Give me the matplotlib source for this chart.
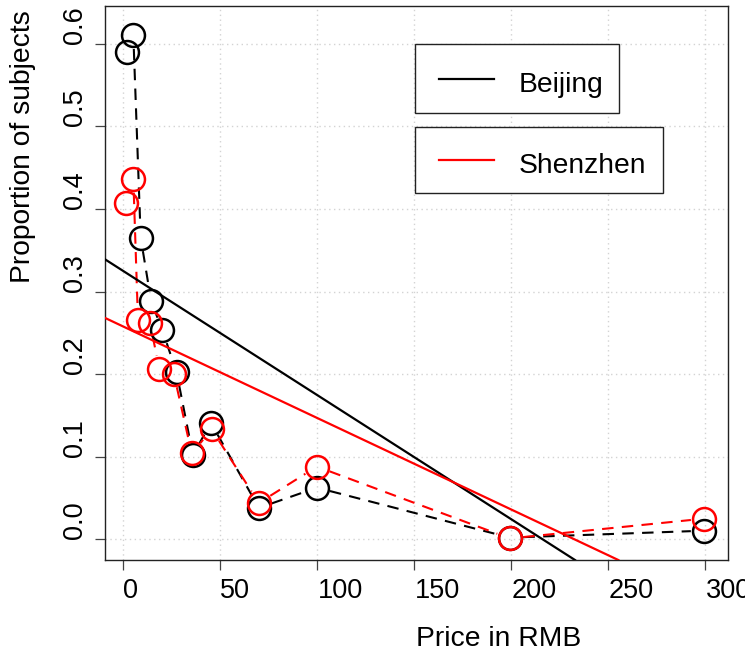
#!/usr/bin/env python3
"""Proportion of subjects by price, Beijing vs Shenzhen, with fitted lines."""

from __future__ import annotations

import numpy as np
import matplotlib

matplotlib.use("Agg")
import matplotlib.pyplot as plt
from matplotlib.lines import Line2D
from matplotlib.patches import Rectangle

# Beijing (black)
bj_price = [1.6, 5.1, 8.9, 14.3, 20.1, 27.4, 35.8, 45.1, 69.8, 99.7, 199.2, 299.4]
bj_prop = [0.590, 0.610, 0.365, 0.288, 0.253, 0.202, 0.102, 0.141, 0.038, 0.0625, 0.002, 0.0104]

# Shenzhen (red)
sz_price = [1.3, 5.1, 7.5, 13.7, 18.5, 26.0, 35.2, 45.5, 69.8, 99.7, 199.2, 299.4]
sz_prop = [0.407, 0.436, 0.265, 0.262, 0.206, 0.200, 0.104, 0.133, 0.044, 0.088, 0.001, 0.025]

# fitted straight lines (intercept, slope)
bj_fit = (0.3247, -0.001503)
sz_fit = (0.2575, -0.001108)

x_ticks = [0, 50, 100, 150, 200, 250, 300]
y_ticks = [0.0, 0.1, 0.2, 0.3, 0.4, 0.5, 0.6]

W, H = 745, 658
BLACK = "#000000"
RED = "#ff0000"
GRID = "#d3d3d3"
TICK = "#444444"

plt.rcParams.update(
    {
        "font.family": ["Liberation Sans", "DejaVu Sans"],
        "font.size": 19.5,
    }
)


def px(x, y):
    """Pixel position (from top-left) to figure fraction."""
    return x / W, 1 - y / H


def gapped_line(ax, xs, ys, color, gap_px=13.5):
    """Dashed connector that stops at the circle edges (like R type='b')."""
    pts = ax.transData.transform(np.column_stack([xs, ys]))
    inv = ax.transData.inverted()
    for p, q in zip(pts[:-1], pts[1:]):
        d = q - p
        length = np.hypot(*d)
        if length <= 2 * gap_px:
            continue
        u = d / length
        a, b = inv.transform(np.array([p + u * gap_px, q - u * gap_px]))
        ax.plot([a[0], b[0]], [a[1], b[1]], color=color, linewidth=1.5,
                dashes=(5.5, 4), dash_capstyle="butt", zorder=3)


def key_box(fig, label, color, box, line_y, baseline):
    x0, y0, x1, y1 = box
    fx, fy = px(x0, y1)
    fig.add_artist(Rectangle((fx, fy), (x1 - x0) / W, (y1 - y0) / H,
                             transform=fig.transFigure, facecolor="white",
                             edgecolor="#222222", linewidth=1.0, zorder=10))
    lx0, ly = px(439, line_y)
    lx1, _ = px(494, line_y)
    fig.add_artist(Line2D([lx0, lx1], [ly, ly], transform=fig.transFigure,
                          color=color, linewidth=1.6, zorder=11))
    tx, ty = px(519, baseline)
    fig.text(tx, ty, label, fontsize=20.3, ha="left", va="baseline", zorder=12)


def main() -> None:
    fig = plt.figure(figsize=(W / 100, H / 100), dpi=100)
    ax = fig.add_axes([105 / W, 98 / H, 623 / W, 554 / H])
    ax.set_xlim(-9.5, 311.6)
    ax.set_ylim(-0.0251, 0.6457)

    ax.set_xticks(x_ticks)
    ax.set_yticks(y_ticks)
    ax.set_xticklabels([str(t) for t in x_ticks], ha="left")
    ax.set_yticklabels([f"{t:.1f}" for t in y_ticks], rotation=90, va="bottom")
    ax.tick_params(axis="both", direction="out", length=7.5, width=0.9, color=TICK)
    ax.tick_params(axis="x", pad=5.5)
    ax.tick_params(axis="y", pad=5)
    for spine in ax.spines.values():
        spine.set_linewidth(1.0)
        spine.set_color("#222222")

    ax.grid(True, color=GRID, linestyle=(0, (1, 2.5)), linewidth=1.0)
    ax.set_axisbelow(True)

    gapped_line(ax, bj_price, bj_prop, BLACK)
    ax.plot(bj_price, bj_prop, linestyle="none", marker="o", markersize=16.5,
            markerfacecolor="none", markeredgecolor=BLACK, markeredgewidth=1.8, zorder=4)
    gapped_line(ax, sz_price, sz_prop, RED)
    ax.plot(sz_price, sz_prop, linestyle="none", marker="o", markersize=16.5,
            markerfacecolor="none", markeredgecolor=RED, markeredgewidth=1.8, zorder=4)

    ax.axline((0, bj_fit[0]), slope=bj_fit[1], color=BLACK, linewidth=1.6, zorder=5)
    ax.axline((0, sz_fit[0]), slope=sz_fit[1], color=RED, linewidth=1.6, zorder=5)

    key_box(fig, "Beijing", BLACK, (415, 44, 619, 113), 79, 91.5)
    key_box(fig, "Shenzhen", RED, (415, 127, 663, 193), 160, 173)

    # labels start at the centre of the plot region, as in the original device
    ax.set_xlabel("Price in RMB", fontsize=20.3)
    ax.set_ylabel("Proportion of subjects", fontsize=20.3)
    ax.xaxis.set_label_coords(0.5, (560 - 639) / 554)
    ax.xaxis.label.set_ha("left")
    ax.xaxis.label.set_va("center")
    ax.yaxis.set_label_coords((23 - 105) / 623, 0.5)
    ax.yaxis.label.set_ha("left")
    ax.yaxis.label.set_va("center")

    fig.savefig("out.png", dpi=100)
    plt.close(fig)


if __name__ == "__main__":
    main()
